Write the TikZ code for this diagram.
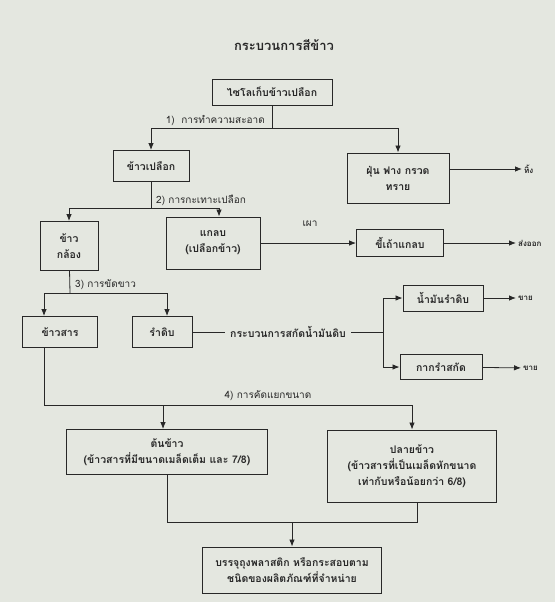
\documentclass[tikz,border=0pt]{standalone}
\usepackage{fontspec}
\newfontfamily\thaifont[Script=Thai]{Loma}
\usepackage{xcolor}
\usetikzlibrary{arrows.meta}
\usetikzlibrary{calc}

\definecolor{paper}{RGB}{228,231,224}
\definecolor{ink}{RGB}{40,40,40}

\tikzset{
  stepbox/.style={draw=ink, text=ink, line width=0.9pt, align=center, inner sep=1pt,
    font=\thaifont\bfseries\fontsize{10.5}{16}\selectfont},
  lbl/.style={text=ink, inner sep=1pt, font=\thaifont\fontsize{10}{12}\selectfont},
  endlbl/.style={text=ink, inner sep=2pt, font=\thaifont\bfseries\fontsize{8}{10}\selectfont},
  flow/.style={draw=ink, line width=0.8pt}
}

\begin{document}
\begin{tikzpicture}[x=1pt, y=-1pt, >={Latex[length=7pt,width=5.5pt]}]
     \fill[paper] (0,0) rectangle (555,602);
     \useasboundingbox (0,0) rectangle (555,602);

     %nodes
     \node[text=ink, font=\thaifont\bfseries\fontsize{13}{15}\selectfont] (title) at (284,45) {กระบวนการสีข้าว};
     \node[stepbox, minimum width=120, minimum height=26] (silo) at (272,92) {ไซโลเก็บข้าวเปลือก};
     \node[stepbox, minimum width=76, minimum height=31] (paddy) at (151,166) {ข้าวเปลือก};
     \node[stepbox, minimum width=102, minimum height=50] (dust) at (398,178) {ฝุ่น ฟาง กรวด\\ทราย};
     \node[endlbl, anchor=west] (discard) at (522,169) {ทิ้ง};
     \node[stepbox, minimum width=58, minimum height=49] (brown) at (69,246) {ข้าว\\กล้อง};
     \node[stepbox, minimum width=94, minimum height=52] (husk) at (213,243) {แกลบ\\(เปลือกข้าว)};
     \node[stepbox, minimum width=87, minimum height=27] (ash) at (400,243) {ขี้เถ้าแกลบ};
     \node[endlbl, anchor=west] (export) at (516,243) {ส่งออก};
     \node[stepbox, minimum width=75, minimum height=31] (milled) at (60,332) {ข้าวสาร};
     \node[stepbox, minimum width=60, minimum height=31] (bran) at (162,332) {รำดิบ};
     \node[stepbox, draw=none, inner sep=5pt] (extract) at (288,332) {กระบวนการสกัดน้ำมันดิบ};
     \node[stepbox, minimum width=80, minimum height=26] (oil) at (443,298) {น้ำมันรำดิบ};
     \node[stepbox, minimum width=82, minimum height=25] (meal) at (441,367) {กากรำสกัด};
     \node[endlbl, anchor=west] (sell1) at (516,298) {ขาย};
     \node[endlbl, anchor=west] (sell2) at (521,368) {ขาย};
     \node[stepbox, minimum width=201, minimum height=45] (head) at (167,452) {ต้นข้าว\\(ข้าวสารที่มีขนาดเมล็ดเต็ม และ 7/8)};
     \node[stepbox, minimum width=169, minimum height=72] (broken) at (412,466) {ปลายข้าว\\(ข้าวสารที่เป็นเมล็ดหักขนาด\\เท่ากับหรือน้อยกว่า 6/8)};
     \node[stepbox, minimum width=179, minimum height=46] (pack) at (292,570) {บรรจุถุงพลาสติก หรือกระสอบตาม\\ชนิดของผลิตภัณฑ์ที่จำหน่าย};

     %junctions
     \coordinate (j1) at (272,128);
     \coordinate (j2) at (151,208);
     \coordinate (j3) at (70,293);
     \coordinate (j4) at (383,332);
     \coordinate (j5) at (44,405);
     \coordinate (j6) at (292,522);

     %step labels
     \node[lbl, anchor=south east] (clean) at ([xshift=-6pt,yshift=1pt]j1) {1)\ \ การทำความสะอาด};
     \node[lbl, anchor=south west] (dehusk) at ([xshift=4pt,yshift=1pt]j2) {2) การกะเทาะเปลือก};
     \node[lbl, anchor=south west] (polish) at ([xshift=4pt,yshift=2pt]j3) {3) การขัดขาว};
     \node[lbl] (burn) at (310,224) {เผา};
     \node[lbl] (grade) at (268,396) {4) การคัดแยกขนาด};

     %connectors
     \draw[flow] (silo) -- (j1);
     \draw[flow, ->] (j1) -| (paddy);
     \draw[flow, ->] (j1) -| (dust);
     \draw[flow, ->] (dust.east |- discard) -- (discard.west);
     \draw[flow] (paddy) -- (j2);
     \draw[flow, ->] (j2) -| (brown);
     \draw[flow, ->] (j2) -| ([xshift=6pt]husk.north);
     \draw[flow, ->] (husk) -- (ash);
     \draw[flow, ->] (ash) -- (export);
     \draw[flow] (brown) -- (j3);
     \draw[flow, ->] (j3) -| ([xshift=-16pt]milled.north);
     \draw[flow, ->] (j3) -| ([xshift=5pt]bran.north);
     \draw[flow] (bran) -- (extract);
     \draw[flow] (extract) -- (j4);
     \draw[flow, ->] (j4) |- (oil);
     \draw[flow, ->] (j4) |- (meal);
     \draw[flow, ->] (oil) -- (sell1);
     \draw[flow, ->] (meal) -- (sell2);
     \draw[flow] (milled.south -| j5) -- (j5);
     \draw[flow, ->] (j5) -| (broken);
     \draw[flow, ->] ([xshift=-4pt]head.north |- j5) -- ([xshift=-4pt]head.north);
     \draw[flow] (head) |- (j6);
     \draw[flow] ([xshift=5pt]broken.south) |- (j6);
     \draw[flow, ->] (j6) -- (pack);
\end{tikzpicture}
\end{document}
